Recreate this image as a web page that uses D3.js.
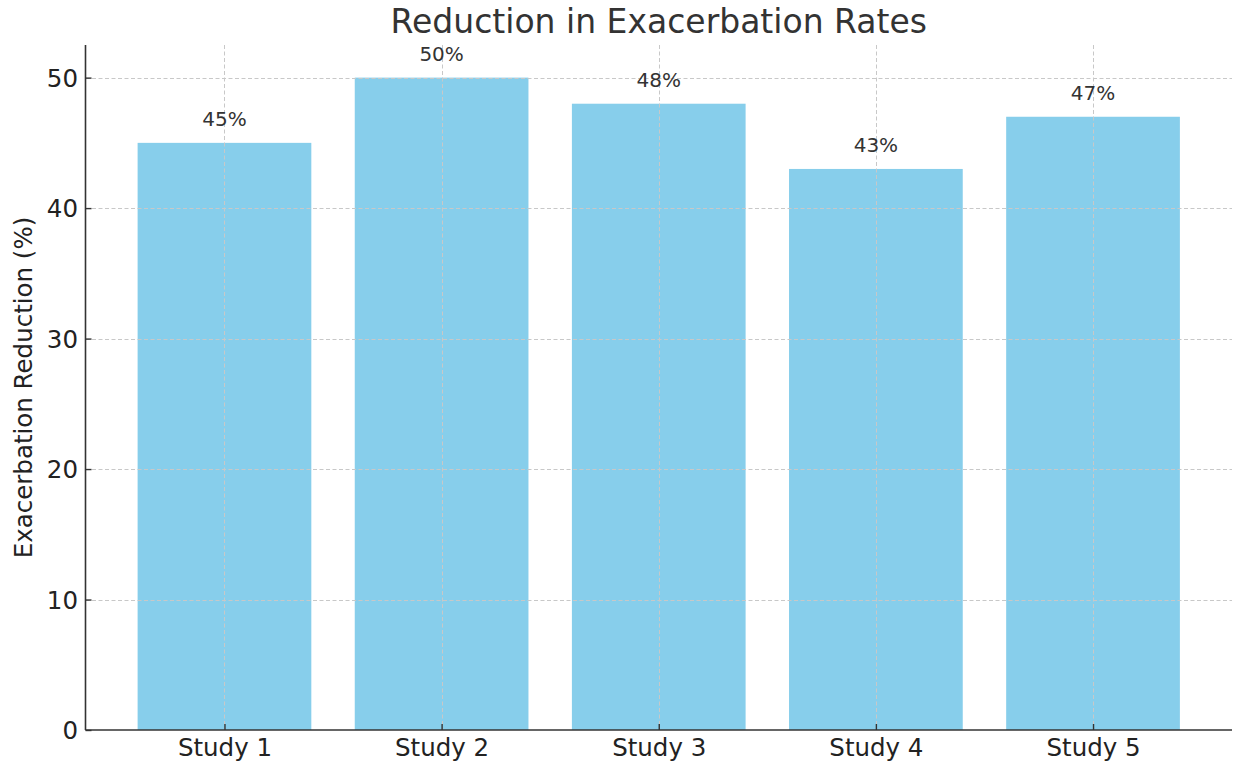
<!DOCTYPE html>
<html>
<head>
<meta charset="utf-8">
<script src="https://cdn.jsdelivr.net/npm/d3@7"></script>
<style>
  html, body { margin: 0; padding: 0; background: #fff; }
  svg { display: block; font-family: "DejaVu Sans", sans-serif; }
</style>
</head>
<body>
<svg id="chart" width="1236" height="767"></svg>
<script>
const categories = ["Study 1", "Study 2", "Study 3", "Study 4", "Study 5"];
const values = [45, 50, 48, 43, 47];
const yTicks = [0, 10, 20, 30, 40, 50];
const title = "Reduction in Exacerbation Rates";
const yLabel = "Exacerbation Reduction (%)";

(function () {
const svg = d3.select("#chart");
const L = 85.5, R = 1232, T = 45, B = 730;

// x: continuous index scale mimicking matplotlib margins
const x = d3.scaleLinear().domain([-0.64, categories.length - 1 + 0.64]).range([L, R]);
const y = d3.scaleLinear().domain([0, 52.5]).range([B, T]);
const barW = x(0.8) - x(0);

const g = svg.append("g");

// bars
g.selectAll("rect.bar").data(values).enter().append("rect")
  .attr("class", "bar")
  .attr("x", (d, i) => x(i) - barW / 2)
  .attr("width", barW)
  .attr("y", d => y(d))
  .attr("height", d => y(0) - y(d))
  .attr("fill", "#87CEEB");

// grid (drawn above bars)
const grid = g.append("g").attr("stroke", "#c8c8c8").attr("stroke-width", 1).attr("stroke-dasharray", "4,2.5");
grid.selectAll("line.h").data(yTicks.slice(1)).enter().append("line")
  .attr("x1", L).attr("x2", R)
  .attr("y1", d => Math.round(y(d)) + 0.5).attr("y2", d => Math.round(y(d)) + 0.5);
grid.selectAll("line.v").data(categories).enter().append("line")
  .attr("y1", T).attr("y2", B)
  .attr("x1", (d, i) => Math.round(x(i)) + 0.5).attr("x2", (d, i) => Math.round(x(i)) + 0.5);

// value labels
g.selectAll("text.val").data(values).enter().append("text")
  .attr("x", (d, i) => x(i))
  .attr("y", d => y(d) - 17)
  .attr("text-anchor", "middle")
  .attr("font-size", 20)
  .attr("fill", "#333")
  .text(d => d + "%");

// y axis (ticks pointing inward)
const yAxis = d3.axisLeft(y).tickValues(yTicks).tickSize(-6).tickPadding(7.5).tickFormat(d3.format("d"));
const ya = svg.append("g").attr("transform", `translate(${L},0)`).call(yAxis);
ya.select(".domain").attr("stroke", "#333").attr("stroke-width", 1.6).attr("d", `M0,${T}V${B}`);
ya.selectAll(".tick line").attr("stroke", "#333").attr("stroke-width", 1.4);
ya.selectAll(".tick text").attr("font-size", 24.5).attr("fill", "#222").attr("font-family", "DejaVu Sans").attr("dy", "0.36em");

// x axis (ticks pointing inward)
const xAxis = d3.axisBottom(x).tickValues(categories.map((d, i) => i)).tickSize(-6).tickPadding(9).tickFormat(i => categories[i]);
const xa = svg.append("g").attr("transform", `translate(0,${B})`).call(xAxis);
xa.select(".domain").attr("stroke", "#333").attr("stroke-width", 1.6).attr("d", `M${L},0H${R}`);
xa.selectAll(".tick line").attr("stroke", "#333").attr("stroke-width", 1.4);
xa.selectAll(".tick text").attr("font-size", 24.5).attr("fill", "#222").attr("font-family", "DejaVu Sans");

// title
svg.append("text")
  .attr("x", (L + R) / 2).attr("y", 33)
  .attr("text-anchor", "middle")
  .attr("font-size", 33)
  .attr("fill", "#333")
  .text(title);

// y label
svg.append("text")
  .attr("transform", `translate(32,${(T + B) / 2}) rotate(-90)`)
  .attr("text-anchor", "middle")
  .attr("font-size", 24.5)
  .attr("fill", "#222")
  .text(yLabel);
})();
</script>
</body>
</html>
